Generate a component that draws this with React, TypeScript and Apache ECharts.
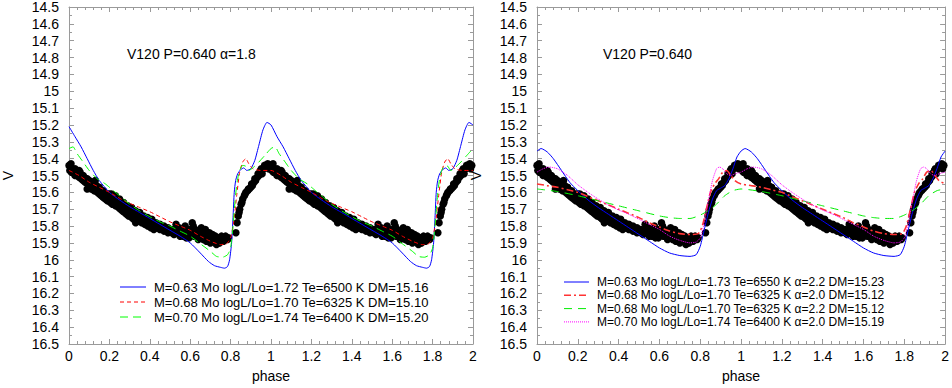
import React, { useEffect, useRef } from "react";
import * as echarts from "echarts";

// Observed V magnitudes (phase 0..1); plotted over two cycles
const obsPoints: number[][] = [
  [0.000,15.44],[0.004,15.47],[0.008,15.45],[0.012,15.48],[0.016,15.46],[0.020,15.47],[0.025,15.49],[0.030,15.46],
  [0.035,15.48],[0.040,15.50],[0.045,15.49],[0.050,15.51],[0.055,15.48],[0.060,15.52],[0.065,15.50],[0.070,15.53],
  [0.075,15.51],[0.080,15.54],[0.085,15.52],[0.090,15.58],[0.095,15.55],[0.100,15.53],[0.105,15.56],[0.110,15.54],
  [0.115,15.57],[0.120,15.55],[0.125,15.59],[0.130,15.57],[0.135,15.56],[0.140,15.60],[0.145,15.58],[0.150,15.61],
  [0.155,15.59],[0.160,15.62],[0.165,15.60],[0.170,15.63],[0.175,15.61],[0.180,15.64],[0.185,15.62],[0.190,15.65],
  [0.195,15.63],[0.200,15.61],[0.205,15.66],[0.210,15.64],[0.215,15.67],[0.220,15.65],[0.225,15.63],[0.230,15.68],
  [0.235,15.66],[0.240,15.64],[0.245,15.69],[0.250,15.67],[0.255,15.70],[0.260,15.68],[0.265,15.71],[0.270,15.69],
  [0.275,15.72],[0.280,15.70],[0.285,15.73],[0.290,15.71],[0.295,15.74],[0.300,15.72],[0.305,15.70],[0.310,15.75],
  [0.315,15.73],[0.320,15.76],[0.325,15.74],[0.330,15.78],[0.335,15.72],[0.340,15.75],[0.345,15.77],[0.350,15.74],
  [0.355,15.76],[0.360,15.78],[0.365,15.75],[0.370,15.77],[0.375,15.79],[0.380,15.76],[0.385,15.78],[0.390,15.80],
  [0.395,15.77],[0.400,15.79],[0.405,15.81],[0.410,15.78],[0.415,15.80],[0.420,15.82],[0.425,15.79],[0.430,15.81],
  [0.440,15.80],[0.450,15.82],[0.460,15.81],[0.470,15.83],[0.480,15.82],[0.490,15.84],[0.500,15.83],[0.510,15.82],
  [0.520,15.85],[0.530,15.79],[0.540,15.84],[0.550,15.86],[0.560,15.83],[0.570,15.85],[0.580,15.87],[0.590,15.82],
  [0.600,15.84],[0.610,15.78],[0.615,15.80],[0.620,15.86],[0.630,15.83],[0.640,15.88],[0.650,15.85],[0.655,15.81],
  [0.660,15.87],[0.670,15.84],[0.680,15.89],[0.690,15.86],[0.700,15.90],[0.705,15.87],[0.710,15.85],[0.720,15.88],
  [0.730,15.91],[0.740,15.87],[0.750,15.89],[0.760,15.87],[0.770,15.88],[0.780,15.87],[0.790,15.87],[0.826,15.84],
  [0.832,15.78],[0.838,15.74],[0.845,15.70],[0.852,15.67],[0.860,15.64],[0.868,15.62],[0.876,15.60],[0.884,15.59],
  [0.892,15.58],[0.900,15.57],[0.908,15.56],[0.916,15.54],[0.924,15.53],[0.932,15.51],[0.940,15.50],[0.948,15.47],
  [0.956,15.49],[0.964,15.46],[0.972,15.45],[0.980,15.44],[0.988,15.46],[0.994,15.44],
  [0.010,15.43],[0.030,15.50],[0.050,15.47],[0.070,15.50],[0.090,15.52],[0.110,15.58],[0.130,15.53],[0.150,15.57],
  [0.170,15.59],[0.190,15.61],[0.210,15.61],[0.230,15.62],[0.250,15.64],[0.270,15.66],[0.290,15.68],[0.310,15.69],
  [0.330,15.71],[0.350,15.72],[0.370,15.74],[0.390,15.75],[0.410,15.76],[0.430,15.78],[0.450,15.79],[0.470,15.80],
  [0.490,15.81],[0.510,15.84],[0.530,15.82],[0.545,15.81],[0.565,15.86],[0.575,15.80],[0.585,15.84],[0.595,15.87],
  [0.605,15.82],[0.625,15.82],[0.635,15.86],[0.645,15.83],[0.665,15.88],[0.675,15.82],[0.685,15.86],[0.695,15.84],
  [0.715,15.89],[0.725,15.86],[0.735,15.89],[0.745,15.90],[0.755,15.86],[0.765,15.89],[0.775,15.86],[0.785,15.88],
  [0.842,15.72],[0.856,15.66],[0.872,15.61],[0.888,15.58],[0.904,15.55],[0.920,15.52],[0.936,15.49],[0.952,15.46],
  [0.968,15.44],[0.984,15.43]
];

// Left panel models (alpha = 1.8), one cycle
const leftM063: number[][] = [
  [0,15.21],[0.03,15.27],[0.06,15.33],[0.09,15.40],[0.12,15.47],[0.15,15.53],[0.2,15.60],[0.25,15.645],[0.3,15.685],
  [0.35,15.72],[0.4,15.755],[0.45,15.79],[0.5,15.825],[0.55,15.86],[0.6,15.9],[0.65,15.96],[0.69,16.01],[0.72,16.035],
  [0.75,16.045],[0.77,16.05],[0.785,16.04],[0.795,16.0],[0.805,15.9],[0.812,15.75],[0.818,15.6],[0.825,15.53],
  [0.835,15.49],[0.85,15.465],[0.865,15.455],[0.88,15.47],[0.9,15.46],[0.92,15.41],[0.94,15.32],[0.96,15.23],
  [0.98,15.185],[1.0,15.2]
];
const leftM068: number[][] = [
  [0,15.47],[0.05,15.50],[0.1,15.54],[0.15,15.57],[0.2,15.60],[0.25,15.635],[0.3,15.665],[0.35,15.69],[0.4,15.715],
  [0.45,15.745],[0.5,15.775],[0.55,15.80],[0.6,15.825],[0.65,15.86],[0.7,15.89],[0.75,15.91],[0.78,15.905],[0.8,15.87],
  [0.815,15.78],[0.83,15.62],[0.845,15.48],[0.86,15.42],[0.875,15.40],[0.89,15.43],[0.91,15.46],[0.95,15.47],[1.0,15.47]
];
const leftM070: number[][] = [
  [0,15.34],[0.02,15.33],[0.04,15.37],[0.07,15.42],[0.1,15.47],[0.14,15.52],[0.18,15.55],[0.22,15.59],[0.26,15.63],
  [0.3,15.67],[0.35,15.71],[0.4,15.745],[0.45,15.775],[0.5,15.80],[0.55,15.83],[0.6,15.86],[0.65,15.905],[0.7,15.95],
  [0.73,15.98],[0.76,15.985],[0.785,15.97],[0.8,15.93],[0.812,15.80],[0.822,15.65],[0.832,15.54],[0.845,15.47],
  [0.86,15.44],[0.875,15.445],[0.89,15.47],[0.91,15.455],[0.94,15.42],[0.97,15.38],[1.0,15.34]
];

// Right panel models, one cycle
const rightM063a22: number[][] = [
  [0,15.355],[0.02,15.34],[0.05,15.36],[0.08,15.40],[0.12,15.47],[0.16,15.54],[0.2,15.59],[0.25,15.645],[0.3,15.69],
  [0.35,15.73],[0.4,15.77],[0.45,15.81],[0.5,15.85],[0.55,15.89],[0.6,15.93],[0.65,15.96],[0.7,15.975],[0.75,15.98],
  [0.78,15.97],[0.8,15.92],[0.82,15.82],[0.84,15.72],[0.86,15.64],[0.88,15.59],[0.9,15.575],[0.92,15.56],[0.94,15.52],
  [0.96,15.46],[0.98,15.39],[1.0,15.355]
];
const rightM068a20: number[][] = [
  [0,15.55],[0.05,15.56],[0.1,15.57],[0.15,15.585],[0.2,15.60],[0.25,15.625],[0.3,15.65],[0.35,15.675],[0.4,15.70],
  [0.45,15.725],[0.5,15.75],[0.55,15.78],[0.6,15.805],[0.65,15.83],[0.7,15.845],[0.75,15.85],[0.79,15.845],[0.81,15.80],
  [0.83,15.70],[0.85,15.60],[0.87,15.55],[0.89,15.52],[0.91,15.48],[0.93,15.47],[0.95,15.50],[0.97,15.53],[1.0,15.55]
];
const rightM068a22: number[][] = [
  [0,15.58],[0.1,15.595],[0.2,15.62],[0.3,15.65],[0.4,15.68],[0.5,15.71],[0.6,15.74],[0.65,15.75],[0.7,15.755],
  [0.75,15.755],[0.8,15.735],[0.85,15.70],[0.88,15.67],[0.92,15.62],[0.96,15.59],[1.0,15.58]
];
const rightM070a20: number[][] = [
  [0,15.48],[0.03,15.46],[0.06,15.45],[0.1,15.46],[0.15,15.50],[0.2,15.555],[0.25,15.60],[0.3,15.64],[0.35,15.675],
  [0.4,15.705],[0.45,15.73],[0.5,15.76],[0.55,15.79],[0.6,15.82],[0.65,15.86],[0.7,15.885],[0.75,15.90],[0.78,15.895],
  [0.8,15.87],[0.82,15.78],[0.84,15.65],[0.86,15.53],[0.88,15.46],[0.895,15.45],[0.91,15.46],[0.93,15.49],[0.95,15.50],
  [0.97,15.49],[1.0,15.48]
];

const leftNames = [
  "M=0.63 Mo logL/Lo=1.72 Te=6500 K DM=15.16",
  "M=0.68 Mo logL/Lo=1.70 Te=6325 K DM=15.10",
  "M=0.70 Mo logL/Lo=1.74 Te=6400 K DM=15.20",
];
const rightNames = [
  "M=0.63 Mo logL/Lo=1.73 Te=6550 K \u03b1=2.2 DM=15.23",
  "M=0.68 Mo logL/Lo=1.70 Te=6325 K \u03b1=2.0 DM=15.12",
  "M=0.68 Mo logL/Lo=1.70 Te=6325 K \u03b1=2.2 DM=15.12",
  "M=0.70 Mo logL/Lo=1.74 Te=6400 K \u03b1=2.0 DM=15.19",
];
const leftTitle = "V120 P=0.640 \u03b1=1.8";
const rightTitle = "V120 P=0.640";

// line styles: [colour, dash, width]
const leftStyles: any[] = [["#0000ff", "solid", 1], ["#ff0000", [4, 3], 1], ["#00ff00", [8, 5], 1]];
const rightStyles: any[] = [
  ["#0000ff", "solid", 1], ["#ff3333", [7, 3, 2, 3], 1.6], ["#00ee00", [8, 6], 1], ["#ff00ff", [1, 1], 1],
];

// repeat one cycle of phased data into phase 1..2
const twoCycles = (pts: number[][]) => [
  ...pts.map((p) => [p[0], p[1]]),
  ...pts.filter((p) => p[0] > 0).map((p) => [p[0] + 1, p[1]]),
];
const obsTwo = [...obsPoints.map((p) => [p[0], p[1]]), ...obsPoints.map((p) => [p[0] + 1, p[1]])];

const FONT = "'Liberation Sans', Arial, Helvetica, sans-serif";
const AX = "#9a9a9a";

function xAxis(grid: number, pos: string, labels: boolean) {
  return {
    type: "value", gridIndex: grid, position: pos, min: 0, max: 2, interval: 0.2,
    axisLine: { show: true, onZero: false, lineStyle: { color: AX, width: 1 } },
    axisTick: { show: true, inside: true, length: 5, lineStyle: { color: AX } },
    minorTick: { show: true, splitNumber: 5, length: 3, lineStyle: { color: AX } },
    splitLine: { show: false }, minorSplitLine: { show: false },
    axisLabel: {
      show: labels, margin: 5, color: "#000", fontSize: 14, fontFamily: FONT,
      formatter: (v: number) => String(Math.round(v * 10) / 10),
    },
    name: labels ? "phase" : "", nameLocation: "middle", nameGap: 25,
    nameTextStyle: { color: "#000", fontSize: 14, fontFamily: FONT },
  };
}
function yAxis(grid: number, pos: string, labels: boolean) {
  return {
    type: "value", gridIndex: grid, position: pos, min: 14.5, max: 16.5, interval: 0.1, inverse: true,
    axisLine: { show: true, onZero: false, lineStyle: { color: AX, width: 1 } },
    axisTick: { show: true, inside: true, length: 5, lineStyle: { color: AX } },
    minorTick: { show: true, splitNumber: 2, length: 3, lineStyle: { color: AX } },
    splitLine: { show: false }, minorSplitLine: { show: false },
    axisLabel: {
      show: labels, margin: 10, color: "#000", fontSize: 14, fontFamily: FONT,
      formatter: (v: number) => String(Math.round(v * 10) / 10),
    },
    name: labels ? "V" : "", nameLocation: "middle", nameGap: 54,
    nameTextStyle: { color: "#000", fontSize: 14, fontFamily: FONT },
  };
}

function lineSeries(name: string, data: number[][], axis: number, st: any[]) {
  return {
    type: "line", name, data: twoCycles(data), xAxisIndex: axis, yAxisIndex: axis,
    symbol: "none", smooth: 0.2, silent: true,
    lineStyle: { color: st[0], width: st[2], type: st[1] },
  };
}

function legendGraphics(names: string[], styles: any[], x0: number, x1: number, tx: number, y0: number, dy: number, fs: number) {
  const out: any[] = [];
  names.forEach((n, i) => {
    const y = y0 + i * dy;
    const st = styles[i];
    out.push({
      type: "line", shape: { x1: x0, y1: y, x2: x1, y2: y }, silent: true,
      style: { stroke: st[0], lineWidth: st[2], lineDash: st[1] === "solid" ? null : st[1] },
    });
    out.push({
      type: "text", x: tx, y, silent: true,
      style: { text: n, fontSize: fs, fontFamily: FONT, fill: "#000", verticalAlign: "middle", align: "left" },
    });
  });
  return out;
}

export default function App() {
  const ref = useRef<HTMLDivElement>(null);
  useEffect(() => {
    if (!ref.current) return;
    const chart = echarts.init(ref.current, undefined, { renderer: "svg" });
    const obsSeries = (axis: number) => ({
      type: "scatter", name: "obs", data: obsTwo, xAxisIndex: axis, yAxisIndex: axis,
      symbol: "circle", symbolSize: 7.5, itemStyle: { color: "#000", opacity: 1 }, silent: true,
    });
    chart.setOption({
      animation: false,
      grid: [
        { left: 62, top: 5, width: 411, height: 343 },
        { left: 537, top: 5, width: 412, height: 343 },
      ],
      xAxis: [xAxis(0, "bottom", true), xAxis(0, "top", false), xAxis(1, "bottom", true), xAxis(1, "top", false)],
      yAxis: [yAxis(0, "left", true), yAxis(0, "right", false), yAxis(1, "left", true), yAxis(1, "right", false)],
      graphic: [
        { type: "text", x: 127, y: 54, style: { text: leftTitle, fontSize: 14, fontFamily: FONT, fill: "#000", verticalAlign: "middle" } },
        { type: "text", x: 603, y: 54, style: { text: rightTitle, fontSize: 14, fontFamily: FONT, fill: "#000", verticalAlign: "middle" } },
        ...legendGraphics(leftNames, leftStyles, 120, 146, 154, 287, 15, 13),
        ...legendGraphics(rightNames, rightStyles, 564, 589, 597, 282, 13.3, 12),
      ],
      series: [
        obsSeries(0),
        ...leftNames.map((n, i) => lineSeries(n, [leftM063, leftM068, leftM070][i], 0, leftStyles[i])),
        obsSeries(2),
        ...rightNames.map((n, i) => lineSeries(n, [rightM063a22, rightM068a20, rightM068a22, rightM070a20][i], 2, rightStyles[i])),
      ],
    });
    return () => chart.dispose();
  }, []);
  return <div ref={ref} style={{ position: "fixed", left: 0, top: 0, width: 952, height: 388, background: "#fff" }} />;
}
